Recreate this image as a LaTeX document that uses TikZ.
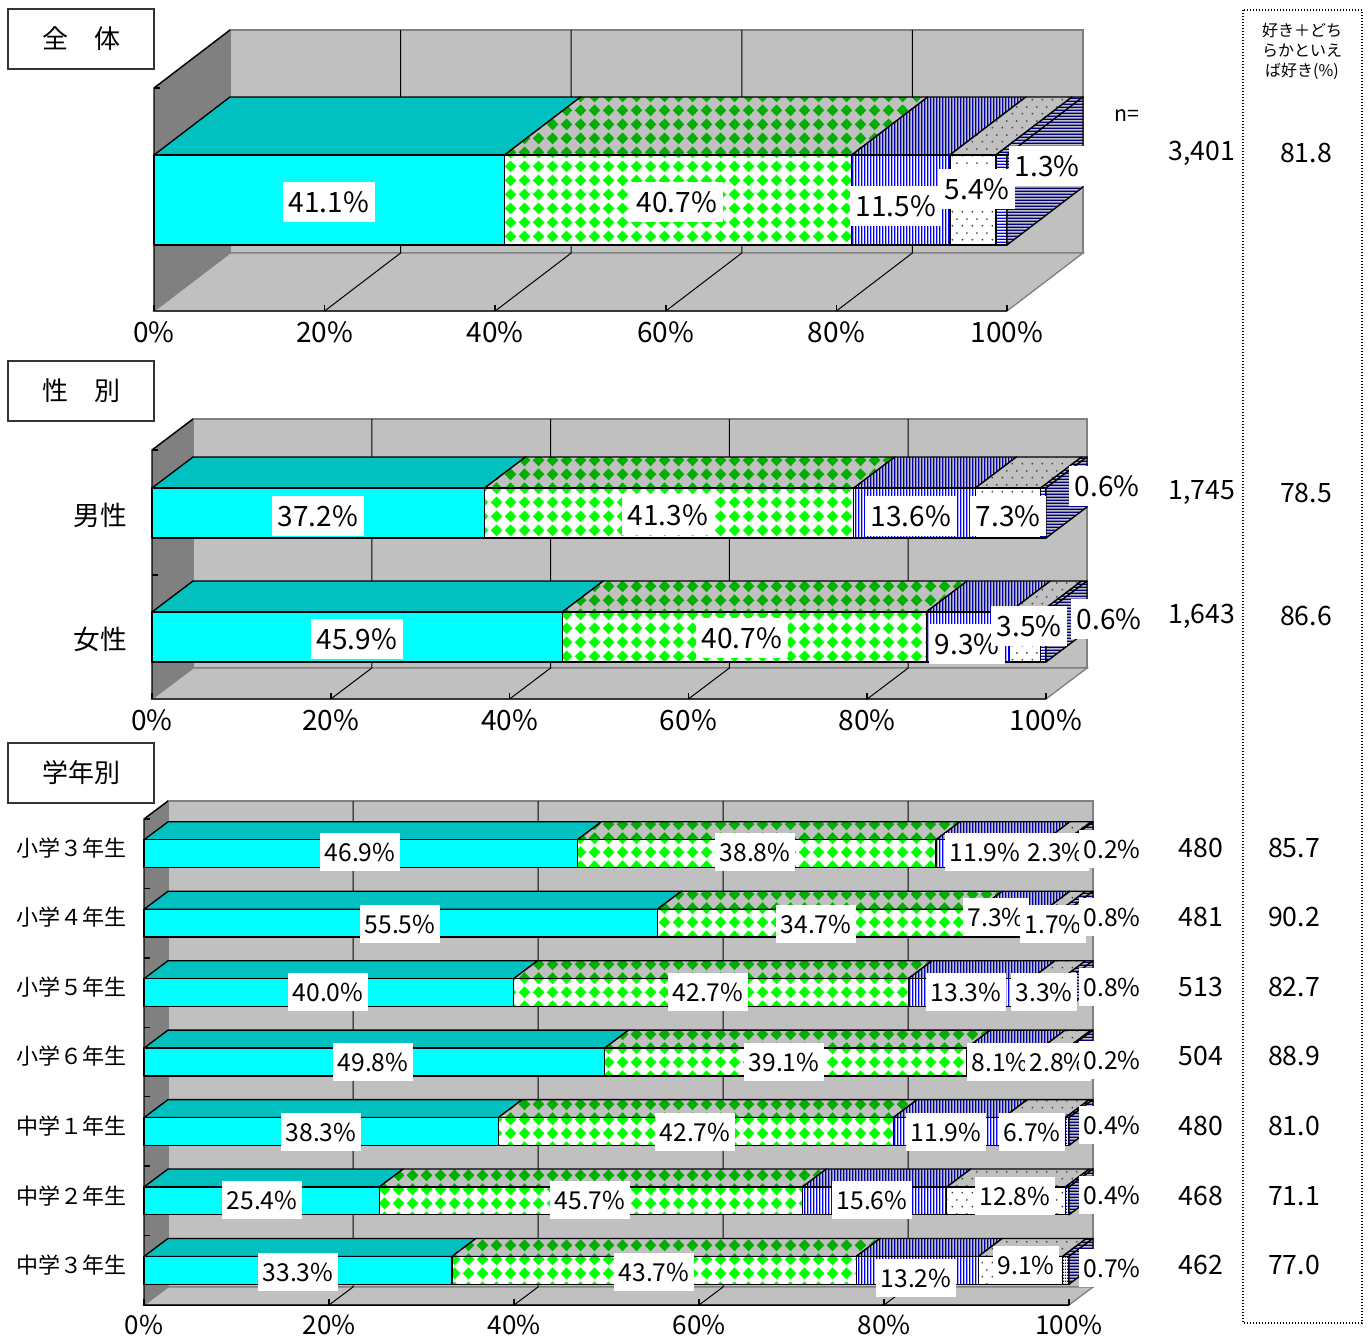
\documentclass[tikz,border=0pt]{standalone}
\usepackage{fontspec}
\setmainfont{Noto Sans CJK JP}
\usetikzlibrary{patterns}
\definecolor{cyanfront}{RGB}{0,255,255}
\definecolor{cyantop}{RGB}{0,192,192}
\definecolor{greenfront}{RGB}{0,255,0}
\definecolor{greentop}{RGB}{0,176,0}
\definecolor{bluefront}{RGB}{0,0,255}
\definecolor{bluetop}{RGB}{0,0,170}
\definecolor{navytop}{RGB}{0,0,128}
\definecolor{wallgray}{RGB}{192,192,192}
\definecolor{sidegray}{RGB}{128,128,128}
\definecolor{dotgray}{RGB}{60,60,60}

% fill patterns of the five answer groups
\pgfdeclarepatternformonly{diamonds}{\pgfpointorigin}{\pgfqpoint{10.5pt}{10.5pt}}{\pgfqpoint{10.5pt}{10.5pt}}{%
  \pgfpathmoveto{\pgfqpoint{5.25pt}{0.6pt}}\pgfpathlineto{\pgfqpoint{9.9pt}{5.25pt}}%
  \pgfpathlineto{\pgfqpoint{5.25pt}{9.9pt}}\pgfpathlineto{\pgfqpoint{0.6pt}{5.25pt}}%
  \pgfpathclose\pgfusepath{fill}}
\pgfdeclarepatternformonly{vstripes}{\pgfpointorigin}{\pgfqpoint{2.25pt}{1pt}}{\pgfqpoint{2.25pt}{1pt}}{%
  \pgfpathrectangle{\pgfpointorigin}{\pgfqpoint{1.35pt}{1pt}}\pgfusepath{fill}}
\pgfdeclarepatternformonly{hstripes}{\pgfpointorigin}{\pgfqpoint{1pt}{2.25pt}}{\pgfqpoint{1pt}{2.25pt}}{%
  \pgfpathrectangle{\pgfpointorigin}{\pgfqpoint{1pt}{1.35pt}}\pgfusepath{fill}}
\pgfdeclarepatternformonly{sdots}{\pgfpointorigin}{\pgfqpoint{7.5pt}{10.5pt}}{\pgfqpoint{7.5pt}{10.5pt}}{%
  \pgfpathcircle{\pgfqpoint{1.9pt}{2.6pt}}{0.75pt}\pgfpathcircle{\pgfqpoint{5.6pt}{7.9pt}}{0.75pt}\pgfusepath{fill}}

\tikzset{
  seg1/.style={fill=cyanfront},
  segtop1/.style={fill=cyantop},
  seg2/.style={preaction={fill=white}, pattern=diamonds, pattern color=greenfront},
  segtop2/.style={preaction={fill=wallgray}, pattern=diamonds, pattern color=greentop},
  seg3/.style={preaction={fill=white}, pattern=vstripes, pattern color=bluefront},
  segtop3/.style={preaction={fill=wallgray}, pattern=vstripes, pattern color=bluetop},
  seg4/.style={preaction={fill=white}, pattern=sdots, pattern color=dotgray},
  segtop4/.style={preaction={fill=wallgray}, pattern=sdots, pattern color=dotgray},
  seg5/.style={preaction={fill=white}, pattern=hstripes, pattern color=bluefront},
  segtop5/.style={preaction={fill=wallgray}, pattern=hstripes, pattern color=navytop},
  barline/.style={line width=1pt, line join=round},
  gridline/.style={line width=0.75pt},
  axisline/.style={line width=1.1pt},
  vlab/.style={fill=white, inner xsep=4.5pt, inner ysep=7.5pt, text height=15.5pt, text depth=0pt, font=\fontsize{21}{21}\selectfont},
  vlabs/.style={vlab, inner xsep=3.75pt, text height=13.6pt, font=\fontsize{18.5}{18.5}\selectfont},
  axlab/.style={font=\fontsize{21}{21}\selectfont},
  axlabs/.style={font=\fontsize{19.5}{19.5}\selectfont},
  numlab/.style={font=\fontsize{20}{20}\selectfont},
  catlab/.style={font=\fontsize{20}{20}\selectfont},
  catlabs/.style={anchor=east, font=\fontsize{16.5}{16.5}\selectfont},
  titlebox/.style={draw=black!80, line width=1pt, minimum width=109.5pt, minimum height=45pt, font=\fontsize{19.5}{19.5}\selectfont},
  headlab/.style={font=\fontsize{12}{12}\selectfont}
}

% frame of one 3-D chart: #1 front top y, #2 axis y
\newcommand\chartframe[2]{%
  \fill[sidegray] (\barx,#1) -- (\barx+\depx,#1-\depy) -- (\barx+\depx,#2-\depy) -- (\barx,#2) -- cycle;
  \draw[sidegray, fill=wallgray, line width=1pt] (\barx+\depx,#1-\depy) rectangle (\barx+\barw+\depx,#2-\depy);
  \draw[sidegray, fill=wallgray, line width=1pt] (\barx,#2) -- (\barx+\depx,#2-\depy) -- (\barx+\barw+\depx,#2-\depy) -- (\barx+\barw,#2) -- cycle;
  \foreach \k in {1,...,4}{
    \draw[gridline] (\barx+\depx+\barw*\k/5,#1-\depy) -- (\barx+\depx+\barw*\k/5,#2-\depy) -- (\barx+\barw*\k/5,#2);
  }
  \draw[axisline] (\barx+\depx,#1-\depy) -- (\barx,#1) -- (\barx,#2) -- (\barx+\barw,#2);
  \foreach \k in {0,...,5}{\draw[axisline] (\barx+\barw*\k/5,#2) -- ++(0,-6);}
}

% one stacked bar: #1 top y, #2 bottom y, #3 values
\newcommand\chartbar[3]{%
  \gdef\cumval{0}\gdef\totval{0}%
  \foreach \v in {#3}{\pgfmathsetmacro\totnew{\totval+\v}\xdef\totval{\totnew}}%
  \foreach \v [count=\i] in {#3}{%
    \pgfmathsetmacro\xa{\barx+\barw*(\cumval/\totval)}%
    \pgfmathsetmacro\cumnew{\cumval+\v}\xdef\cumval{\cumnew}%
    \pgfmathsetmacro\xb{\barx+\barw*(\cumval/\totval)}%
    \draw[barline, segtop\i] (\xa,#1) -- (\xb,#1) -- (\xb+\depx,#1-\depy) -- (\xa+\depx,#1-\depy) -- cycle;
    \draw[barline, seg\i] (\xa,#1) rectangle (\xb,#2);
  }%
  \draw[barline, segtop5] (\barx+\barw,#1) -- (\barx+\barw+\depx,#1-\depy) -- (\barx+\barw+\depx,#2-\depy) -- (\barx+\barw,#2) -- cycle;
}

\begin{document}
\begin{tikzpicture}[x=0.75pt, y=-0.75pt]
  \useasboundingbox (0,0) rectangle (1370,1335);

  % answer columns at the right
  \draw[line width=1pt, dash pattern=on 0.75pt off 1.5pt] (1243,10) rectangle (1362,1323);
  \node[headlab] (head1) at (1302,30) {好き＋どち};
  \node[headlab] (head2) at (1302,51) {らかといえ};
  \node[headlab] (head3) at (1302,71) {ば好き(\%)};
  \node[headlab, font=\fontsize{16}{16}\selectfont] (nhead) at (1127,116) {n=};

  % ---------- 全体
  \node[titlebox] (ttotal) at (81,39) {全　体};
  \def\barx{154}\def\barw{853}\def\depx{76}\def\depy{58}
  \chartframe{88}{311}
  \draw[axisline] (\barx,88) -- ++(6,0);
  \chartbar{155}{245}{41.1,40.7,11.5,5.4,1.3}
  \foreach \k in {0,...,5}{
    \pgfmathtruncatemacro\pc{20*\k}
    \node[axlab] (tax\k) at (\barx+\barw*\k/5,332) {\pc\%};
  }
  \node[vlab] (tv1) at (329,202) {41.1\%};
  \node[vlab] (tv2) at (677,202) {40.7\%};
  \node[vlab] (tv3) at (896,206) {11.5\%};
  \node[vlab] (tv5) at (1047,166) {1.3\%};
  \node[vlab] (tv4) at (977,189) {5.4\%};
  \node[numlab] (tn) at (1202,153) {3,401};
  \node[numlab] (tp) at (1306,153) {81.8};

  % ---------- 性別
  \node[titlebox] (tsex) at (81,391) {性　別};
  \def\barx{152}\def\barw{894}\def\depx{41}\def\depy{31}
  \chartframe{450}{699}
  \foreach \y in {450,575}{\draw[axisline] (\barx,\y) -- ++(6,0);}
  \chartbar{488}{538}{37.2,41.3,13.6,7.3,0.6}
  \chartbar{612}{662}{45.9,40.7,9.3,3.5,0.6}
  \foreach \k in {0,...,5}{
    \pgfmathtruncatemacro\pc{20*\k}
    \node[axlab] (sax\k) at (\barx+\barw*\k/5,720) {\pc\%};
  }
  \node[catlab] (male) at (100,515) {男性};
  \node[catlab] (female) at (100,639) {女性};
  \node[vlab] (mv1) at (318,516) {37.2\%};
  \node[vlab] (mv2) at (668,515) {41.3\%};
  \node[vlab] (mv3) at (911,516) {13.6\%};
  \node[vlab] (mv4) at (1008,516) {7.3\%};
  \node[vlab] (mv5) at (1107,486) {0.6\%};
  \node[vlab] (fv1) at (357,639) {45.9\%};
  \node[vlab] (fv2) at (742,638) {40.7\%};
  \node[vlab] (fv3) at (967,644) {9.3\%};
  \node[vlab] (fv4) at (1029,626) {3.5\%};
  \node[vlab] (fv5) at (1109,619) {0.6\%};
  \node[numlab] (mn) at (1202,493) {1,745};
  \node[numlab] (mp) at (1306,493) {78.5};
  \node[numlab] (fn) at (1202,616) {1,643};
  \node[numlab] (fp) at (1306,616) {86.6};

  % ---------- 学年別
  \node[titlebox] (tgrade) at (81,773) {学年別};
  \def\barx{144}\def\barw{925}\def\depx{24}\def\depy{18}
  \chartframe{819}{1305}
  \foreach \k in {0,...,6}{\draw[axisline] (\barx,819+69.43*\k) -- ++(6,0);}
  \chartbar{839.8}{867.6}{46.9,38.8,11.9,2.3,0.2}
  \chartbar{909.3}{937.1}{55.5,34.7,7.3,1.7,0.8}
  \chartbar{978.7}{1006.5}{40.0,42.7,13.3,3.3,0.8}
  \chartbar{1048.1}{1075.9}{49.8,39.1,8.1,2.8,0.2}
  \chartbar{1117.6}{1145.4}{38.3,42.7,11.9,6.7,0.4}
  \chartbar{1187.0}{1214.8}{25.4,45.7,15.6,12.8,0.4}
  \chartbar{1256.4}{1284.2}{33.3,43.7,13.2,9.1,0.7}
  \foreach \k in {0,...,5}{
    \pgfmathtruncatemacro\pc{20*\k}
    \node[axlabs] (gax\k) at (\barx+\barw*\k/5,1325) {\pc\%};
  }
  \foreach \name/\yy [count=\r] in {小学３年生/848, 小学４年生/917, 小学５年生/987, 小学６年生/1056, 中学１年生/1126, 中学２年生/1196, 中学３年生/1265}{
    \node[catlabs] (grade\r) at (131,\yy) {\name};
  }
  % row labels
  \node[vlabs] (g1v1) at (360,852) {46.9\%};
  \node[vlabs] (g1v2) at (755,852) {38.8\%};
  \node[vlabs] (g1v3) at (985,852) {11.9\%};
  \node[vlabs] (g1v4) at (1056,852) {2.3\%};
  \node[vlabs] (g1v5) at (1112,849) {0.2\%};
  \node[vlabs] (g2v1) at (400,924) {55.5\%};
  \node[vlabs] (g2v2) at (816,924) {34.7\%};
  \node[vlabs] (g2v3) at (996,917) {7.3\%};
  \node[vlabs] (g2v4) at (1053,924) {1.7\%};
  \node[vlabs] (g2v5) at (1112,917) {0.8\%};
  \node[vlabs] (g3v1) at (328,992) {40.0\%};
  \node[vlabs] (g3v2) at (708,992) {42.7\%};
  \node[vlabs] (g3v3) at (966,992) {13.3\%};
  \node[vlabs] (g3v4) at (1044,992) {3.3\%};
  \node[vlabs] (g3v5) at (1112,987) {0.8\%};
  \node[vlabs] (g4v1) at (373,1062) {49.8\%};
  \node[vlabs] (g4v2) at (784,1062) {39.1\%};
  \node[vlabs] (g4v3) at (1000,1062) {8.1\%};
  \node[vlabs] (g4v4) at (1058,1062) {2.8\%};
  \node[vlabs] (g4v5) at (1112,1060) {0.2\%};
  \node[vlabs] (g5v1) at (321,1132) {38.3\%};
  \node[vlabs] (g5v2) at (695,1132) {42.7\%};
  \node[vlabs] (g5v3) at (946,1132) {11.9\%};
  \node[vlabs] (g5v4) at (1032,1132) {6.7\%};
  \node[vlabs] (g5v5) at (1112,1125) {0.4\%};
  \node[vlabs] (g6v1) at (262,1200) {25.4\%};
  \node[vlabs] (g6v2) at (590,1200) {45.7\%};
  \node[vlabs] (g6v3) at (872,1200) {15.6\%};
  \node[vlabs] (g6v4) at (1015,1196) {12.8\%};
  \node[vlabs] (g6v5) at (1112,1195) {0.4\%};
  \node[vlabs] (g7v1) at (298,1272) {33.3\%};
  \node[vlabs] (g7v2) at (654,1272) {43.7\%};
  \node[vlabs] (g7v3) at (916,1278) {13.2\%};
  \node[vlabs] (g7v4) at (1026,1265) {9.1\%};
  \node[vlabs] (g7v5) at (1112,1268) {0.7\%};
  % sample sizes and shares
  \foreach \n/\p/\yy [count=\r] in {480/85.7/848, 481/90.2/917, 513/82.7/987, 504/88.9/1056, 480/81.0/1126, 468/71.1/1196, 462/77.0/1265}{
    \node[numlab] (gn\r) at (1201,\yy) {\n};
    \node[numlab] (gp\r) at (1294,\yy) {\p};
  }
\end{tikzpicture}
\end{document}
